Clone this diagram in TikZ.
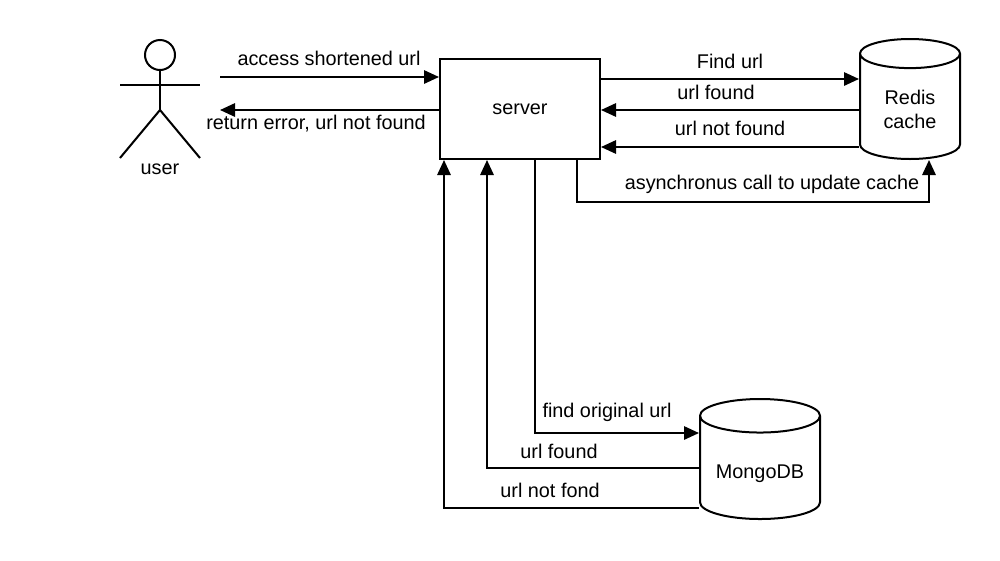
\documentclass[tikz,border=0pt]{standalone}
\usepackage{fontspec}
\setmainfont{Liberation Sans}
\usetikzlibrary{shapes.geometric,arrows.meta}
\tikzset{
  flow/.style={draw, line width=1.2pt, -{Triangle[length=9pt,width=8pt]}},
  lbl/.style={inner sep=0pt, font=\fontsize{11.9pt}{14pt}\selectfont},
  store/.style={draw, line width=1.2pt, fill=white, cylinder, shape border rotate=90, minimum height=72pt, align=center, inner sep=0pt, anchor=bottom, font=\fontsize{11.9pt}{14.4pt}\selectfont},
}
\begin{document}
\begin{tikzpicture}[x=0.6pt,y=-0.6pt]
  \useasboundingbox (0,0) rectangle (1000,560);
  % user
  \node[draw, circle, line width=1.2pt, minimum size=18pt, inner sep=0pt] (head) at (160,55) {};
  \coordinate (hip) at (160,110);
  \draw[line width=1.2pt] (head.south) -- (hip);
  \draw[line width=1.2pt] (120,85) -- (200,85);
  \draw[line width=1.2pt] (120,158) -- (hip) -- (200,158);
  \node[lbl] (user) at (160,169) {user};
  % server and stores
  \node[draw, line width=1.2pt, minimum width=96pt, minimum height=60pt, inner sep=0pt, font=\fontsize{11.9pt}{14pt}\selectfont] (server) at (520,109) {server};
  \node[store, aspect=0.55, minimum width=60pt] (redis) at (910,160) {\rule{0pt}{12pt}Redis\\cache};
  \node[store, aspect=0.38, minimum width=72pt] (mongo) at (760,520) {\rule{0pt}{15pt}MongoDB};
  % free ends
  \coordinate (u1) at (220,77);
  \coordinate (u2) at (220,110);
  \coordinate (r1) at (0,79);
  \coordinate (r2) at (0,110);
  \coordinate (r3) at (0,147);
  \coordinate (m1) at (0,433);
  \coordinate (m2) at (0,468);
  \coordinate (m3) at (0,508);
  % user <-> server
  \draw[flow] (u1) -- (u1 -| server.west);
  \draw[flow] (u2 -| server.west) -- (u2);
  \node[lbl] (l1) at (329,58) {access shortened url};
  \node[lbl] (l2) at (316,124) {return error, url not found};
  % server <-> redis
  \draw[flow] (r1 -| server.east) -- (r1 -| redis.west);
  \draw[flow] (r2 -| redis.west) -- (r2 -| server.east);
  \draw[flow] (r3 -| redis.west) -- (r3 -| server.east);
  \draw[flow] (577,159) -- (577,202) -- (929,202) -- (929,160);
  \node[lbl] (l3) at (730,61) {Find url};
  \node[lbl] (l4) at (716,92) {url found};
  \node[lbl] (l5) at (730,128) {url not found};
  \node[lbl] (l6) at (772,184) {asynchronus call to update cache};
  % server <-> mongo
  \draw[flow] (535,159) -- (535,433) -- (m1 -| mongo.west);
  \draw[flow] (m2 -| mongo.west) -- (487,468) -- (487,160);
  \draw[flow] (m3 -| mongo.west) -- (444,508) -- (444,160);
  \node[lbl] (l7) at (607,412) {find original url};
  \node[lbl] (l8) at (559,451) {url found};
  \node[lbl] (l9) at (550,490) {url not fond};
\end{tikzpicture}
\end{document}
